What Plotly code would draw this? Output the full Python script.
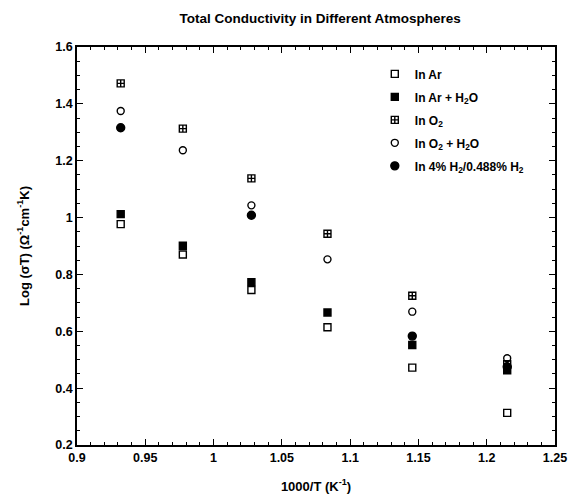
import plotly.graph_objects as go

x_inv_T = [0.932, 0.9775, 1.0277, 1.0834, 1.1455, 1.215]

ar = [0.977, 0.870, 0.745, 0.614, 0.472, 0.313]
ar_h2o = [1.012, 0.901, 0.773, 0.666, 0.552, 0.463]
o2 = [1.472, 1.313, 1.138, 0.943, 0.725, 0.484]
o2_h2o = [1.375, 1.237, 1.043, 0.853, 0.669, 0.505]
x_h2 = [0.932, 1.0277, 1.1455, 1.215]
h2 = [1.316, 1.008, 0.583, 0.475]

names = ["In Ar", "In Ar + H<sub>2</sub>O", "In O<sub>2</sub>",
         "In O<sub>2</sub> + H<sub>2</sub>O", "In 4% H<sub>2</sub>/0.488% H<sub>2</sub>"]

FONT = "Liberation Sans, Arial, sans-serif"
fig = go.Figure()
series = [
    (x_inv_T, ar, "square-open", 7),
    (x_inv_T, ar_h2o, "square", 7),
    (x_inv_T, o2, "square-cross-open", 7),
    (x_inv_T, o2_h2o, "circle-open", 7),
    (x_h2, h2, "circle", 8),
]
for i, ((xs, ys, sym, sz), nm) in enumerate(zip(series, names)):
    fig.add_trace(go.Scatter(
        x=xs, y=ys, mode="markers", name=nm, legendgroup=f"g{i}",
        marker=dict(symbol=sym, size=sz, color="black",
                    line=dict(color="black", width=1.4)),
    ))

tickfont = dict(family=FONT, size=12.5, color="black", weight="bold")
axis_common = dict(
    showline=True, linecolor="black", linewidth=1.5, mirror="allticks",
    ticks="inside", ticklen=6, tickwidth=1, tickcolor="black",
    showgrid=False, zeroline=False,
    tickfont=tickfont,
)
fig.update_xaxes(range=[0.9, 1.25], dtick=0.05, tick0=0.9,
                 minor=dict(ticks="inside", ticklen=3, dtick=0.01, tickcolor="black", showgrid=False),
                 title=dict(text="1000/T (K<sup>-1</sup>)",
                            font=dict(family=FONT, size=13, color="black", weight="bold"), standoff=18),
                 **axis_common)
fig.update_yaxes(range=[0.2, 1.6], dtick=0.2, tick0=0.2,
                 minor=dict(ticks="inside", ticklen=3, dtick=0.05, tickcolor="black", showgrid=False),
                 title=dict(text="Log (σT) (Ω<sup>-1</sup>cm<sup>-1</sup>K)",
                            font=dict(family=FONT, size=13, color="black", weight="bold"), standoff=23),
                 tickformat="~g",
                 **axis_common)

fig.update_layout(
    width=579, height=504,
    margin=dict(l=77, r=17, t=47, b=52),
    paper_bgcolor="white", plot_bgcolor="white",
    title=dict(text="Total Conductivity in Different Atmospheres",
               x=0.553, xanchor="center", y=0.964, yanchor="middle",
               font=dict(family=FONT, size=13.5, color="black", weight="bold")),
    legend=dict(x=0.623, y=0.969, xanchor="left", yanchor="top",
                bgcolor="rgba(0,0,0,0)", borderwidth=0,
                font=dict(family=FONT, size=12, color="black", weight="bold"),
                itemwidth=30, tracegroupgap=4),
    showlegend=True,
)

fig.write_html(
    "out.html", config={"displayModeBar": False},
    post_script="document.body.style.margin='0';document.body.style.overflow='hidden';"
                "document.documentElement.style.overflow='hidden';",
)
